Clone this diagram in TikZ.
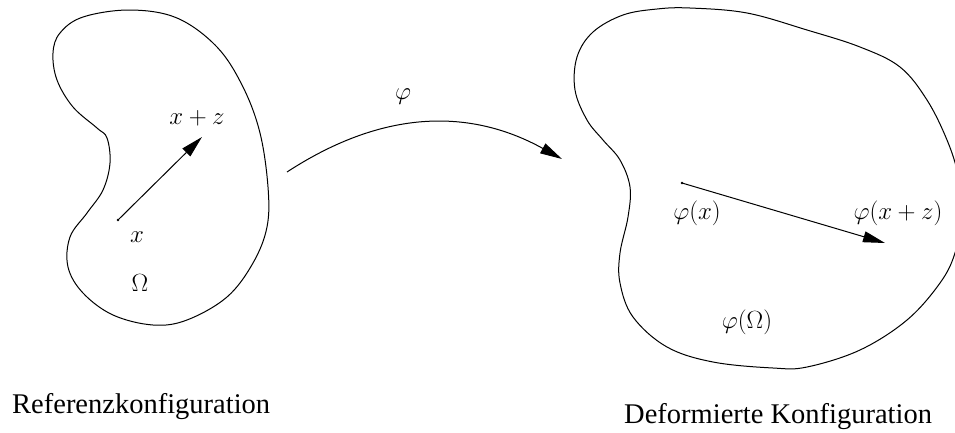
\documentclass[tikz,border=0pt]{standalone}
\usepackage{fontspec}
\newfontfamily\timesfont{Liberation Serif}
\usetikzlibrary{arrows.meta}
\begin{document}
\begin{tikzpicture}[x=1pt,y=-1pt,
  outline/.style={line width=1pt,black},
  vec/.style={line width=1pt,-{Triangle[length=22pt,width=11pt]}},
  mlabel/.style={font=\fontsize{27}{32}\selectfont,inner sep=0pt},
  tlabel/.style={font=\timesfont\fontsize{28.5}{34}\selectfont,inner sep=0pt}]
\useasboundingbox (0,0) rectangle (955,432);
% reference body
\draw[outline] plot[smooth cycle,tension=0.6] coordinates {
 (130,10) (177,18) (217,47) (243,87) (260,133) (268,187) (267,227) (253,263)
 (227,297) (187,320) (153,325) (113,315) (83,293) (68,267) (70,237) (87,213)
 (103,190) (110,163) (107,138) (97,128) (73,107) (57,80) (53,53) (60,33) (83,17)};
% deformed body
\begin{scope}
\clip (0,0) rectangle (955,432);
\draw[outline] plot[smooth cycle,tension=0.6] coordinates {
 (690,8) (747,13) (807,30) (860,47) (900,67) (927,100) (947,140) (958,175)
 (962,215) (955,253) (940,283) (907,320) (860,350) (807,367) (773,368)
 (713,362) (667,347) (633,317) (620,283) (620,253) (628,217) (630,187)
 (620,160) (603,140) (587,120) (575,90) (577,57) (593,32) (623,15) (657,9)};
\end{scope}
% points and vectors
\coordinate (x) at (118,220);
\coordinate (xz) at (202,137);
\coordinate (px) at (682,183);
\coordinate (pxz) at (885,243);
\coordinate (ms) at (287,172);
\coordinate (me) at (562,159);
\fill (x) circle (1.3pt);
\fill (px) circle (1.3pt);
\draw[vec] (x) -- (xz);
\draw[vec] (px) -- (pxz);
\draw[vec] (ms) .. controls (379,112) and (466,106) .. (me);
% labels
\node[mlabel] (lxz) at (197,118) {$x+z$};
\node[mlabel] (lx) at (137,237) {$x$};
\node[mlabel] (lom) at (140,283) {$\Omega$};
\node[mlabel] (lphi) at (403,97) {$\varphi$};
\node[mlabel] (lpx) at (697,213) {$\varphi(x)$};
\node[mlabel] (lpxz) at (898,213) {$\varphi(x+z)$};
\node[mlabel] (lpom) at (747,322) {$\varphi(\Omega)$};
\node[tlabel,anchor=base west] (ref) at (12,413) {Referenzkonfiguration};
\node[tlabel,anchor=base west] (def) at (624,423) {Deformierte Konfiguration};
\end{tikzpicture}
\end{document}
